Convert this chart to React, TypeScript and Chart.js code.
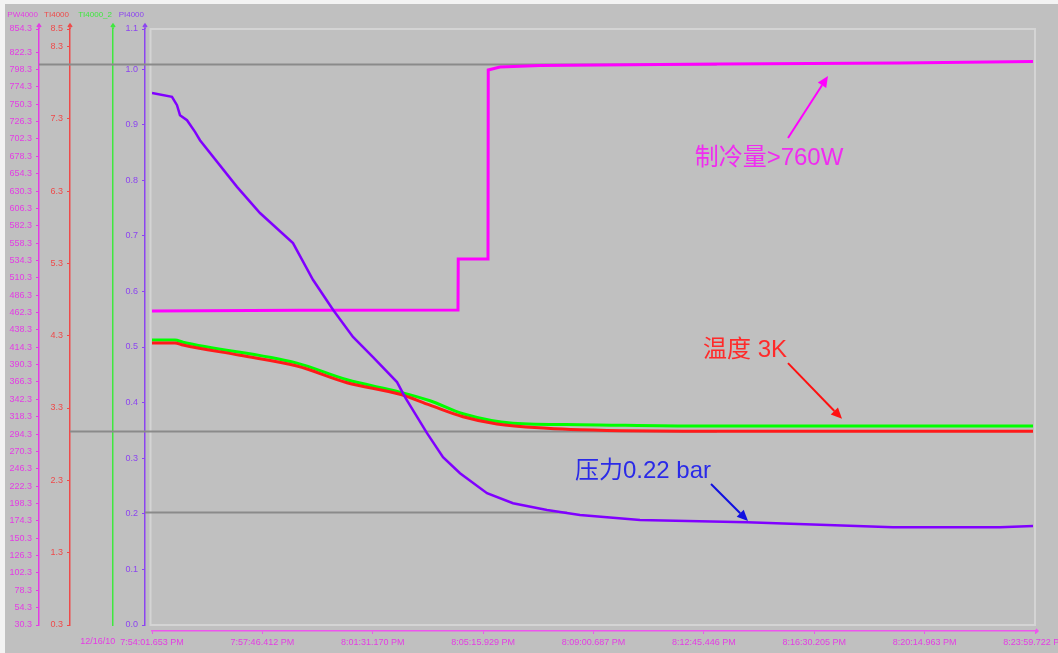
import React, { useEffect, useRef } from "react";
import { Chart, registerables } from "chart.js";

Chart.register(...registerables);

// ---------- axis labels / ticks ----------
const X_TICK_SECONDS = [0, 224.759, 449.517, 674.276, 899.034, 1123.793, 1348.552, 1573.31, 1798.069];
const X_TICK_LABELS = [
  "7:54:01.653 PM",
  "7:57:46.412 PM",
  "8:01:31.170 PM",
  "8:05:15.929 PM",
  "8:09:00.687 PM",
  "8:12:45.446 PM",
  "8:16:30.205 PM",
  "8:20:14.963 PM",
  "8:23:59.722 PM",
];
const DATE_LABEL = "12/16/10";

const AXIS_NAMES = ["PW4000", "TI4000", "TI4000_2", "PI4000"];

const PW_RANGE = [30.3, 854.3];
const PW_TICKS = [
  30.3, 54.3, 78.3, 102.3, 126.3, 150.3, 174.3, 198.3, 222.3, 246.3, 270.3, 294.3, 318.3, 342.3, 366.3, 390.3, 414.3,
  438.3, 462.3, 486.3, 510.3, 534.3, 558.3, 582.3, 606.3, 630.3, 654.3, 678.3, 702.3, 726.3, 750.3, 774.3, 798.3, 822.3,
  854.3,
];
const TI_RANGE = [0.3, 8.54];
const TI_TICKS = [0.3, 1.3, 2.3, 3.3, 4.3, 5.3, 6.3, 7.3, 8.3, 8.54];
const PI_RANGE = [0, 1.072];
const PI_TICKS = [0, 0.1, 0.2, 0.3, 0.4, 0.5, 0.6, 0.7, 0.8, 0.9, 1.0, 1.072];

// ---------- series (time in seconds from 7:54:01.653 PM) ----------
// PW4000 – cooling power (W)
const PW_T = [0, 301.4, 623.1, 623.6, 684.2, 684.7, 708.6, 790.1, 1156.6, 1523.2, 1794];
const PW_V = [464.4, 465.5, 465.8, 536.3, 536.3, 797.6, 801.8, 803.8, 805.9, 807.3, 809.4];

// TI4000 – temperature (K)
const TI_T = [0, 46.8, 63.1, 179.2, 295.3, 397.1, 505.0, 566.1, 633.3, 702.5, 804.3, 871.5, 1115.9, 1794];
const TI_V = [4.2, 4.2, 4.17, 4.03, 3.88, 3.65, 3.49, 3.34, 3.18, 3.08, 3.02, 3.0, 2.98, 2.98];

// TI4000_2 – temperature 2 (K)
const TI2_T = [0, 46.8, 63.1, 295.3, 397.1, 505.0, 566.1, 633.3, 735.1, 871.5, 1115.9, 1794];
const TI2_V = [4.24, 4.24, 4.21, 3.92, 3.69, 3.52, 3.4, 3.22, 3.09, 3.07, 3.05, 3.05];

// PI4000 – pressure (bar)
const PI_T = [
  0, 40.7, 50.9, 57.0, 71.3, 87.6, 97.7, 173.1, 219.9, 287.1, 327.8, 368.6, 409.3, 450.0, 498.9, 515.2, 560.0, 592.6,
  627.2, 682.2, 735.1, 804.3, 871.5, 993.7, 1211.6, 1508.9, 1726.8, 1794,
];
const PI_V = [
  0.957, 0.95, 0.935, 0.917, 0.908, 0.887, 0.872, 0.788, 0.741, 0.687, 0.621, 0.567, 0.518, 0.482, 0.437, 0.41, 0.345,
  0.302, 0.273, 0.237, 0.219, 0.207, 0.198, 0.189, 0.185, 0.176, 0.176, 0.178,
];

// ---------- reference (cursor) lines ----------
const REF_AXES = ["yPW", "yTI", "yPI"];
const REF_VALUES = [806, 2.98, 0.203];
const REF_END_T = [1150, 1150, 845];

// ---------- annotations ----------
const ANNOT_TEXT = ["制冷量>760W", "温度 3K", "压力0.22 bar"];
const ANNOT_AXIS = ["yPW", "yTI", "yPI"];
const ANNOT_TEXT_T = [1256.4, 1207.5, 999.8];
const ANNOT_TEXT_V = [675.9, 4.1, 0.277];
const ANNOT_TAIL_T = [1295.1, 1295.1, 1138.3];
const ANNOT_TAIL_V = [703.6, 3.92, 0.2536];
const ANNOT_HEAD_T = [1376.5, 1405.1, 1213.6];
const ANNOT_HEAD_V = [789.3, 3.15, 0.187];

// ---------- styles ----------
const C_PW = "#ff00ff";
const C_TI = "#ff1a1a";
const C_TI2 = "#00ff00";
const C_PI = "#8000ff";
const AX_PW = "#e43ce4";
const AX_TI = "#ee4a4a";
const AX_TI2 = "#3ee83e";
const AX_PI = "#8c44f0";
const ANNOT_TEXT_COLORS = ["#f02cf0", "#ff2a2a", "#2a2ae8"];
const ANNOT_ARROW_COLORS = ["#ff00ff", "#ff1010", "#1010e0"];
const FONT = '"Liberation Sans", Arial, "Noto Sans CJK SC", sans-serif';

const toXY = (t: number[], v: number[]) => t.map((x, i) => ({ x, y: v[i] }));

function drawArrow(ctx: CanvasRenderingContext2D, x0: number, y0: number, x1: number, y1: number, color: string) {
  const ang = Math.atan2(y1 - y0, x1 - x0);
  const hl = 11;
  const hw = 5;
  const bx = x1 - hl * Math.cos(ang);
  const by = y1 - hl * Math.sin(ang);
  ctx.strokeStyle = color;
  ctx.fillStyle = color;
  ctx.lineWidth = 2;
  ctx.beginPath();
  ctx.moveTo(x0, y0);
  ctx.lineTo(bx, by);
  ctx.stroke();
  ctx.beginPath();
  ctx.moveTo(x1, y1);
  ctx.lineTo(bx + hw * Math.sin(ang), by - hw * Math.cos(ang));
  ctx.lineTo(bx - hw * Math.sin(ang), by + hw * Math.cos(ang));
  ctx.closePath();
  ctx.fill();
}

const decorPlugin = {
  id: "decor",
  beforeDraw(chart: any) {
    const { ctx, width, height, chartArea: ca } = chart;
    ctx.save();
    ctx.fillStyle = "#f3f3f3";
    ctx.fillRect(0, 0, width, height);
    ctx.fillStyle = "#c0c0c0";
    ctx.fillRect(5, 4, width - 5, height - 4);
    ctx.strokeStyle = "#d4d4d4";
    ctx.lineWidth = 2;
    ctx.strokeRect(ca.left - 1.5, ca.top, ca.right - ca.left + 1.5, ca.bottom - ca.top);
    ctx.restore();
  },
  beforeDatasetsDraw(chart: any) {
    const { ctx } = chart;
    const xs = chart.scales.x;
    ctx.save();
    ctx.strokeStyle = "#8a8a8a";
    ctx.lineWidth = 2;
    REF_AXES.forEach((id, i) => {
      const ys = chart.scales[id];
      const y = Math.round(ys.getPixelForValue(REF_VALUES[i])) + 0.5;
      ctx.beginPath();
      ctx.moveTo(ys.right, y);
      ctx.lineTo(xs.getPixelForValue(REF_END_T[i]), y);
      ctx.stroke();
    });
    ctx.restore();
  },
  afterDraw(chart: any) {
    const { ctx, chartArea: ca } = chart;
    const xs = chart.scales.x;
    ctx.save();
    // header names over y axes
    const ids = ["yPW", "yTI", "yTI2", "yPI"];
    const cols = [AX_PW, AX_TI, AX_TI2, AX_PI];
    ctx.font = `8px ${FONT}`;
    ctx.textAlign = "right";
    ctx.textBaseline = "middle";
    ids.forEach((id, i) => {
      const s = chart.scales[id];
      ctx.fillStyle = cols[i];
      ctx.fillText(AXIS_NAMES[i], s.right - 1, 15);
      ctx.strokeStyle = cols[i];
      ctx.lineWidth = 1.5;
      ctx.beginPath();
      ctx.moveTo(s.right, ca.top);
      ctx.lineTo(s.right, ca.top - 5);
      ctx.moveTo(s.right - 2, ca.top - 2);
      ctx.lineTo(s.right, ca.top - 5);
      ctx.lineTo(s.right + 2, ca.top - 2);
      ctx.stroke();
    });
    // x axis end arrow
    ctx.strokeStyle = "#ee55ee";
    ctx.beginPath();
    ctx.moveTo(xs.right, xs.top);
    ctx.lineTo(xs.right + 3, xs.top);
    ctx.moveTo(xs.right + 1, xs.top - 2);
    ctx.lineTo(xs.right + 3, xs.top);
    ctx.lineTo(xs.right + 1, xs.top + 2);
    ctx.stroke();
    // date label before first time label
    ctx.font = `9px ${FONT}`;
    const firstX = xs.getPixelForValue(X_TICK_SECONDS[0]);
    const w0 = ctx.measureText(X_TICK_LABELS[0]).width;
    ctx.fillStyle = AX_PW;
    ctx.textAlign = "right";
    ctx.fillText(DATE_LABEL, firstX - w0 / 2 - 5, 642);
    // annotations
    ctx.font = `24px ${FONT}`;
    ctx.textAlign = "center";
    ctx.textBaseline = "middle";
    ANNOT_TEXT.forEach((txt, i) => {
      const ys = chart.scales[ANNOT_AXIS[i]];
      ctx.fillStyle = ANNOT_TEXT_COLORS[i];
      ctx.fillText(txt, xs.getPixelForValue(ANNOT_TEXT_T[i]), ys.getPixelForValue(ANNOT_TEXT_V[i]));
      drawArrow(
        ctx,
        xs.getPixelForValue(ANNOT_TAIL_T[i]),
        ys.getPixelForValue(ANNOT_TAIL_V[i]),
        xs.getPixelForValue(ANNOT_HEAD_T[i]),
        ys.getPixelForValue(ANNOT_HEAD_V[i]),
        ANNOT_ARROW_COLORS[i]
      );
    });
    ctx.restore();
  },
};

function yAxis(range: number[], ticks: number[] | null, color: string, labelColor: string, width: number, weight: number) {
  return {
    type: "linear",
    position: "left",
    weight,
    min: range[0],
    max: range[1],
    afterBuildTicks: (s: any) => {
      if (ticks) s.ticks = ticks.map((value) => ({ value }));
    },
    afterFit: (s: any) => {
      s.width = width;
      s.paddingTop = 0;
      s.paddingBottom = 0;
    },
    border: { display: true, color, width: 1.5 },
    grid: { display: !!ticks, drawOnChartArea: false, drawTicks: true, tickLength: 3, color, lineWidth: 1 },
    ticks: {
      display: !!ticks,
      autoSkip: false,
      padding: 4,
      color: labelColor,
      font: { family: FONT, size: 9 },
      callback: (v: any) => Number(v).toFixed(1),
    },
  };
}

export default function App() {
  const ref = useRef<HTMLCanvasElement>(null);
  useEffect(() => {
    const chart = new Chart(ref.current as HTMLCanvasElement, {
      type: "line",
      data: {
        datasets: [
          { label: "PI4000", data: toXY(PI_T, PI_V), yAxisID: "yPI", borderColor: C_PI, borderWidth: 2.5 },
          { label: "TI4000", data: toXY(TI_T, TI_V), yAxisID: "yTI", borderColor: C_TI, borderWidth: 3, cubicInterpolationMode: "monotone" },
          { label: "TI4000_2", data: toXY(TI2_T, TI2_V), yAxisID: "yTI2", borderColor: C_TI2, borderWidth: 3, cubicInterpolationMode: "monotone" },
          { label: "PW4000", data: toXY(PW_T, PW_V), yAxisID: "yPW", borderColor: C_PW, borderWidth: 3 },
        ].map((d) => ({ ...d, xAxisID: "x", pointRadius: 0, tension: 0, fill: false })),
      },
      options: {
        animation: false,
        responsive: false,
        maintainAspectRatio: false,
        devicePixelRatio: 1,
        events: [],
        layout: { autoPadding: false, padding: { top: 29, left: 0, right: 23, bottom: 0 } },
        plugins: { legend: { display: false }, tooltip: { enabled: false } },
        scales: {
          x: {
            type: "linear",
            position: "bottom",
            weight: 1,
            min: X_TICK_SECONDS[0],
            max: X_TICK_SECONDS[X_TICK_SECONDS.length - 1],
            afterBuildTicks: (s: any) => {
              s.ticks = X_TICK_SECONDS.map((value) => ({ value }));
            },
            afterFit: (s: any) => {
              s.height = 22;
              s.paddingLeft = 0;
              s.paddingRight = 0;
            },
            border: { display: true, color: "#ee55ee", width: 1.5 },
            grid: { display: true, drawOnChartArea: false, drawTicks: true, tickLength: 3, color: "#ee55ee" },
            ticks: {
              autoSkip: false,
              maxRotation: 0,
              padding: 3,
              color: AX_PW,
              font: { family: FONT, size: 9 },
              callback: (_v: any, i: number) => X_TICK_LABELS[i],
            },
          },
          xPad: {
            type: "linear",
            position: "bottom",
            weight: 0,
            afterFit: (s: any) => {
              s.height = 6;
            },
            border: { display: false },
            grid: { display: false },
            ticks: { display: false },
          },
          yPW: yAxis(PW_RANGE, PW_TICKS, AX_PW, AX_PW, 39, 5),
          yTI: yAxis(TI_RANGE, TI_TICKS, AX_TI, AX_TI, 31, 4),
          yTI2: yAxis(TI_RANGE, null, AX_TI2, AX_TI2, 43, 3),
          yPI: yAxis(PI_RANGE, PI_TICKS, AX_PI, AX_PI, 32, 2),
          yPad: {
            type: "linear",
            position: "left",
            weight: 1,
            afterFit: (s: any) => {
              s.width = 7;
            },
            border: { display: false },
            grid: { display: false },
            ticks: { display: false },
          },
        } as any,
      },
      plugins: [decorPlugin],
    } as any);
    return () => chart.destroy();
  }, []);
  return (
    <div style={{ position: "fixed", left: 0, top: 0, width: 1058, height: 653 }}>
      <canvas ref={ref} width={1058} height={653} style={{ display: "block", width: 1058, height: 653 }} />
    </div>
  );
}
